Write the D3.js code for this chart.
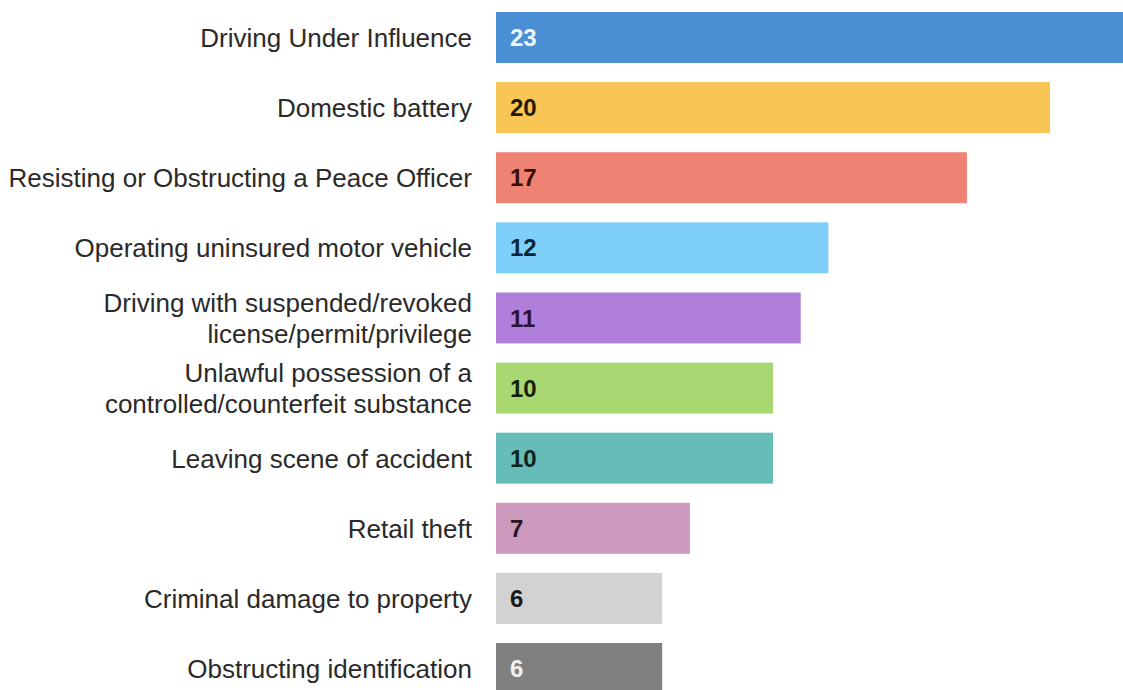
<!DOCTYPE html>
<html>
<head>
<meta charset="utf-8">
<script src="https://cdn.jsdelivr.net/npm/d3@7"></script>
<style>
  html, body { margin: 0; padding: 0; background: #ffffff; overflow: hidden; }
  svg { display: block; }
</style>
</head>
<body>
<svg id="chart" width="1123" height="690"></svg>
<script>
const categories = [
  "Driving Under Influence",
  "Domestic battery",
  "Resisting or Obstructing a Peace Officer",
  "Operating uninsured motor vehicle",
  "Driving with suspended/revoked\nlicense/permit/privilege",
  "Unlawful possession of a\ncontrolled/counterfeit substance",
  "Leaving scene of accident",
  "Retail theft",
  "Criminal damage to property",
  "Obstructing identification"
];
const values = [23, 20, 17, 12, 11, 10, 10, 7, 6, 6];
const barColors = ["#4a8fd4", "#f8c655", "#ee8273", "#7ed0fa", "#b07fdc", "#a9d872", "#66bcb6", "#cc9abc", "#d3d1d1", "#808080"];
const valueColors = ["#eef6ff", "#221a05", "#3a0d08", "#0c2438", "#2a1238", "#15220a", "#0c2422", "#2e1424", "#1a1a1a", "#f0f0f0"];

const svg = d3.select("#chart");
const font = "'Liberation Sans', Arial, Helvetica, sans-serif";

const x = d3.scaleLinear().domain([0, 20]).range([496, 1050]);
const y = d3.scaleBand().domain(categories).range([12, 694]).paddingInner(0.273).paddingOuter(0);

const rows = categories.map((c, i) => ({ c, v: values[i], i }));

svg.selectAll("rect.bar").data(rows).join("rect")
  .attr("class", "bar")
  .attr("x", x(0))
  .attr("y", d => y(d.c))
  .attr("width", d => x(d.v) - x(0))
  .attr("height", y.bandwidth())
  .attr("fill", d => barColors[d.i]);

svg.selectAll("text.val").data(rows).join("text")
  .attr("class", "val")
  .attr("x", x(0) + 14)
  .attr("y", d => y(d.c) + y.bandwidth() / 2)
  .attr("dy", "0.36em")
  .attr("font-family", font)
  .attr("font-weight", "bold")
  .attr("font-size", 24)
  .attr("fill", d => valueColors[d.i])
  .text(d => d.v);

const labelSize = 26;
const lineH = 31;
const lbl = svg.selectAll("text.lbl").data(rows).join("text")
  .attr("class", "lbl")
  .attr("text-anchor", "end")
  .attr("font-family", font)
  .attr("font-size", labelSize)
  .attr("fill", "#2a2a2a");

lbl.each(function(d) {
  const lines = d.c.split("\n");
  const cy = y(d.c) + y.bandwidth() / 2;
  const t = d3.select(this);
  lines.forEach((ln, k) => {
    t.append("tspan")
      .attr("x", 472)
      .attr("y", cy + (k - (lines.length - 1) / 2) * lineH)
      .attr("dy", "0.36em")
      .text(ln);
  });
});
</script>
</body>
</html>
